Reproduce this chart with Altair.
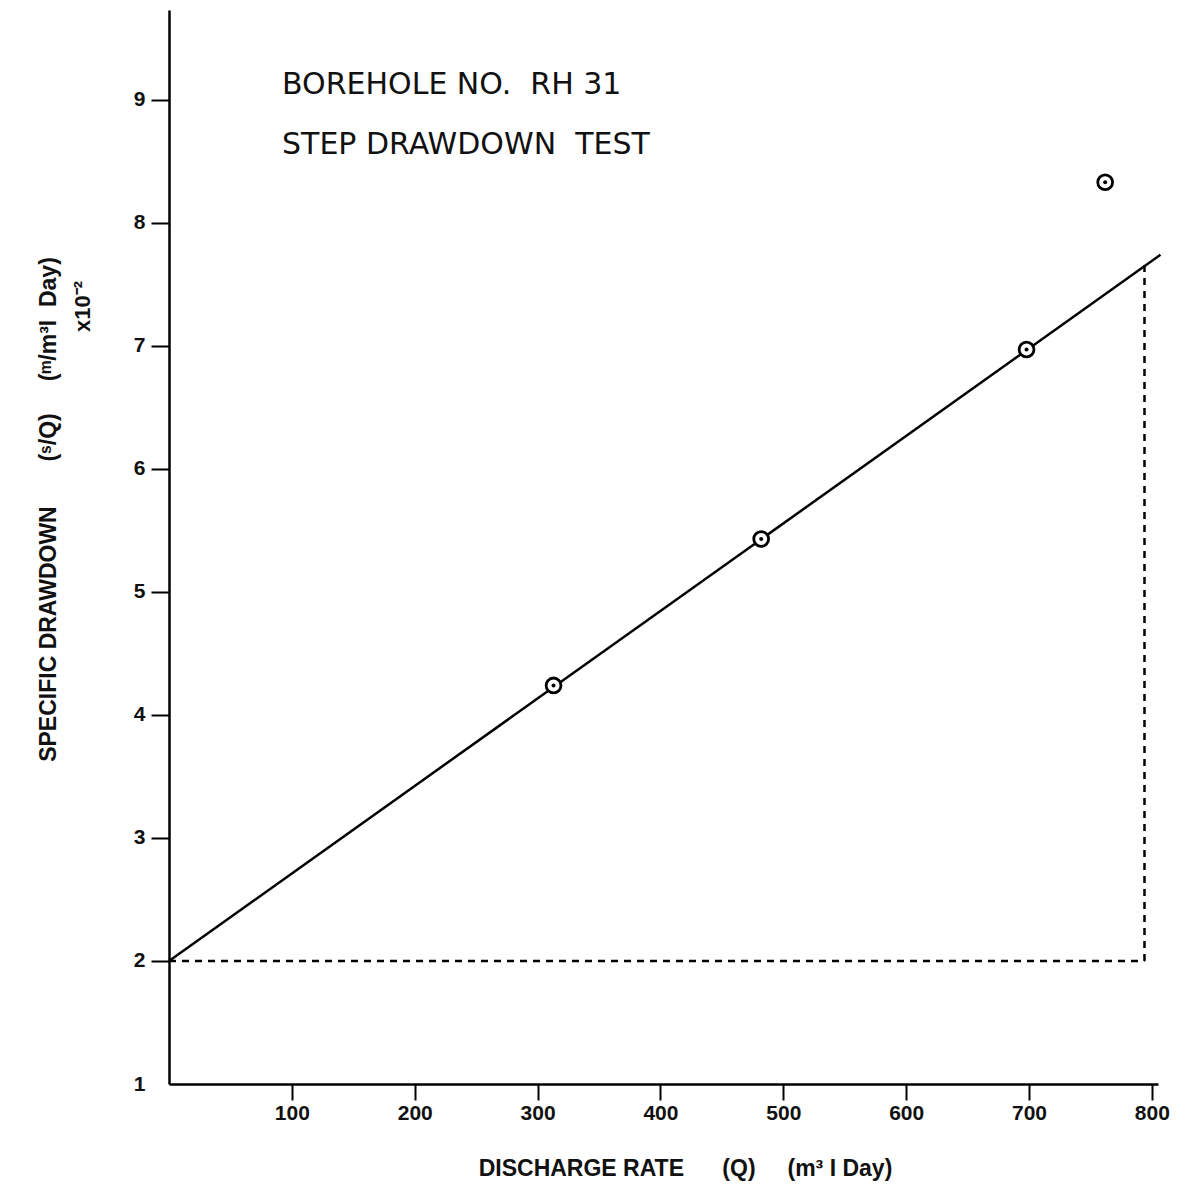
import altair as alt
import pandas as pd

# data
q_points = [313, 482, 698, 762]
sq_points = [4.24, 5.43, 6.97, 8.33]

fit_q = [0, 807]
fit_sq = [2.0, 7.74]

dash_h_q = [0, 794]
dash_h_sq = [2.0, 2.0]
dash_v_q = [794, 794]
dash_v_sq = [2.0, 7.66]

x_ticks = [100, 200, 300, 400, 500, 600, 700, 800]
y_ticks = [1, 2, 3, 4, 5, 6, 7, 8, 9]

notes = ["BOREHOLE NO.\u00a0\u00a0RH 31", "STEP DRAWDOWN\u00a0\u00a0TEST"]
notes_q = [92, 92]
notes_sq = [9.05, 8.56]

NB = "\u00a0"
x_title = f"DISCHARGE RATE{NB*6}(Q){NB*5}(m³ I Day)"
y_title = f"SPECIFIC DRAWDOWN{NB*7}(ˢ/Q){NB*5}(ᵐ/m³I{NB*2}Day)"

FONT = "Liberation Sans"

xs = alt.Scale(domain=[0, 805], nice=False, zero=False)
ys = alt.Scale(domain=[1, 9.73], nice=False, zero=False)

pts = pd.DataFrame({"q": q_points, "sq": sq_points})
fit = pd.DataFrame({"q": fit_q, "sq": fit_sq})
dh = pd.DataFrame({"q": dash_h_q, "sq": dash_h_sq})
dv = pd.DataFrame({"q": dash_v_q, "sq": dash_v_sq})
nt = pd.DataFrame({"q": notes_q, "sq": notes_sq, "t": notes})
sc = pd.DataFrame({"q": [-70], "sq": [7.32], "t": ["x10⁻²"]})

x_enc = alt.X("q:Q", scale=xs, axis=alt.Axis(
    values=x_ticks, format="d", title=x_title, grid=False, domainColor="black", domainWidth=2.5,
    tickColor="black", tickWidth=2, tickSize=16, labelFont=FONT, labelFontSize=21,
    labelFontWeight="bold", labelColor="#111", labelPadding=2,
    titleFont=FONT, titleFontSize=23, titleFontWeight="bold", titleColor="#111",
    titleX=516, titleY=84, titleBaseline="middle", titleAlign="center"))
y_enc = alt.Y("sq:Q", scale=ys, axis=alt.Axis(
    values=y_ticks, format="d", title=y_title, grid=False, domainColor="black", domainWidth=2.5,
    tickColor="black", tickWidth=2, tickSize=18,
    tickOpacity=alt.condition("datum.value == 1", alt.value(0), alt.value(1)),
    labelFont=FONT, labelFontSize=21, labelFontWeight="bold", labelColor="#111",
    labelPadding=6,
    titleFont=FONT, titleFontSize=23, titleFontWeight="bold", titleColor="#111",
    titleX=-121, titleY=499, titleAngle=270, titleBaseline="middle", titleAlign="center"))

line = alt.Chart(fit).mark_line(color="black", strokeWidth=2.5, clip=False).encode(x=x_enc, y=y_enc)
h = alt.Chart(dh).mark_line(color="black", strokeWidth=2.5, strokeDash=[7, 6]).encode(x="q:Q", y="sq:Q")
v = alt.Chart(dv).mark_line(color="black", strokeWidth=2.5, strokeDash=[7, 6]).encode(x="q:Q", y="sq:Q")
circ = alt.Chart(pts).mark_point(shape="circle", size=220, filled=False, color="black",
                                 strokeWidth=2.8, fill="white", fillOpacity=1, opacity=1).encode(x="q:Q", y="sq:Q")
dot = alt.Chart(pts).mark_point(shape="circle", size=16, filled=True, color="black", opacity=1).encode(x="q:Q", y="sq:Q")
txt = alt.Chart(nt).mark_text(align="left", baseline="alphabetic", font="DejaVu Sans",
                              fontSize=30, color="#111").encode(x="q:Q", y="sq:Q", text="t:N")
sct = alt.Chart(sc).mark_text(align="center", baseline="middle", font=FONT, fontWeight="bold",
                              fontSize=22, angle=270, color="#111", clip=False).encode(x="q:Q", y="sq:Q", text="t:N")

chart = alt.layer(line, h, v, circ, dot, txt, sct).properties(
    width=989, height=1074,
    autosize=alt.AutoSizeParams(type="none"),
    padding={"left": 161, "top": 2, "right": 22, "bottom": 100},
    background="white",
).configure_view(stroke=None)

chart.save("out.html", embed_options={"renderer": "svg", "actions": False})
